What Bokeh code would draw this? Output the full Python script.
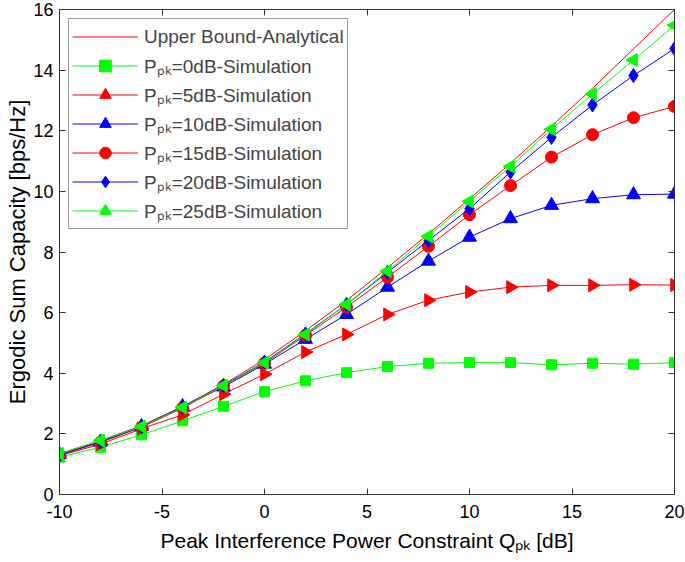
import math
from bokeh.plotting import figure
from bokeh.models import Legend, LegendItem, LinearAxis, FixedTicker, Range1d
from bokeh.embed import file_html
from bokeh.resources import INLINE

# peak interference power constraint Q_pk [dB]
q_db = [-10, -8, -6, -4, -2, 0, 2, 4, 6, 8, 10, 12, 14, 16, 18, 20]

upper_bound = [1.35, 1.78, 2.27, 2.90, 3.63, 4.45, 5.40, 6.40, 7.48, 8.60, 9.75, 10.93, 12.15, 13.40, 14.70, 16.00]
ppk_0 = [1.23, 1.56, 1.97, 2.43, 2.91, 3.39, 3.75, 4.02, 4.22, 4.33, 4.35, 4.35, 4.28, 4.33, 4.30, 4.35]
ppk_5 = [1.28, 1.66, 2.17, 2.63, 3.31, 3.97, 4.70, 5.28, 5.94, 6.41, 6.68, 6.84, 6.90, 6.90, 6.92, 6.91]
ppk_10 = [1.32, 1.73, 2.24, 2.90, 3.55, 4.30, 5.12, 5.94, 6.84, 7.70, 8.49, 9.10, 9.54, 9.76, 9.89, 9.91]
ppk_15 = [1.30, 1.72, 2.22, 2.85, 3.58, 4.33, 5.25, 6.18, 7.17, 8.19, 9.23, 10.19, 11.13, 11.87, 12.43, 12.80]
ppk_20 = [1.31, 1.74, 2.24, 2.88, 3.60, 4.37, 5.30, 6.27, 7.33, 8.38, 9.43, 10.64, 11.78, 12.85, 13.82, 14.71]
ppk_25 = [1.34, 1.78, 2.24, 2.87, 3.59, 4.35, 5.28, 6.27, 7.37, 8.52, 9.67, 10.82, 12.05, 13.21, 14.33, 15.48]

ppk_levels = [0, 5, 10, 15, 20, 25]
x_ticks = [-10, -5, 0, 5, 10, 15, 20]
y_ticks = [0, 2, 4, 6, 8, 10, 12, 14, 16]

FONT = "Liberation Sans"
AX = "#333333"

p = figure(width=685, height=562, x_range=Range1d(-10, 20), y_range=Range1d(0, 16),
           output_backend="svg", toolbar_location=None,
           min_border_left=59, min_border_right=11, min_border_top=9, min_border_bottom=68)
p.xgrid.grid_line_color = None
p.ygrid.grid_line_color = None
p.outline_line_color = AX

p.xaxis.ticker = FixedTicker(ticks=x_ticks)
p.yaxis.ticker = FixedTicker(ticks=y_ticks)
p.xaxis.major_label_overrides = {t: str(t) for t in x_ticks}
p.xaxis.axis_label = "Peak Interference Power Constraint Q\u209a\u2096 [dB]"
p.yaxis.axis_label = "Ergodic Sum Capacity [bps/Hz]"
for ax in (p.xaxis, p.yaxis):
    ax.axis_line_color = AX
    ax.major_tick_line_color = AX
    ax.major_tick_in = 6
    ax.major_tick_out = 0
    ax.minor_tick_line_color = None
    ax.major_label_text_font = FONT
    ax.major_label_text_font_size = "18px"
    ax.major_label_text_color = "black"
    ax.axis_label_text_font = FONT
    ax.axis_label_text_font_style = "normal"
    ax.axis_label_text_color = "black"
p.xaxis.axis_label_text_font_size = "21px"
p.yaxis.axis_label_text_font_size = "22px"
p.xaxis.major_label_standoff = 10
p.xaxis.axis_label_standoff = 8
p.yaxis.major_label_standoff = 6
p.yaxis.axis_label_standoff = 0

# box ticks on top and right, no labels
for loc, tk in (("above", x_ticks), ("right", y_ticks)):
    ax = LinearAxis(ticker=FixedTicker(ticks=tk), major_label_text_font_size="1px",
                    major_label_text_color=None, major_label_standoff=0,
                    major_tick_in=6, major_tick_out=0, minor_tick_line_color=None,
                    axis_line_color=AX, major_tick_line_color=AX)
    p.add_layout(ax, loc)

items = []
r = p.line(q_db, upper_bound, line_color="#ff0000", line_width=1)
items.append(LegendItem(label="Upper Bound-Analytical", renderers=[r]))

series = [
    (ppk_0, "#00ff00", "square", 10, 0),
    (ppk_5, "#ff0000", "triangle", 13, -math.pi / 2),
    (ppk_10, "#0000ff", "triangle", 14, 0),
    (ppk_15, "#ff0000", "circle", 12, 0),
    (ppk_20, "#0000ff", "diamond", 14, 0),
    (ppk_25, "#00ff00", "triangle", 13, math.pi / 2),
]
for lv, (vals, col, mk, sz, ang) in zip(ppk_levels, series):
    rl = p.line(q_db, vals, line_color=col, line_width=1)
    rs = p.scatter(q_db, vals, marker=mk, size=sz, angle=ang,
                   fill_color=col, line_color=col)
    items.append(LegendItem(label="P\u209a\u2096=%ddB-Simulation" % lv, renderers=[rl, rs]))

legend = Legend(items=items, location="top_left", margin=9, padding=3, spacing=0,
                label_height=26, glyph_height=29, glyph_width=66, label_standoff=6,
                label_text_font=FONT, label_text_font_size="19px",
                border_line_color=AX, border_line_width=1)
p.add_layout(legend)

open("out.html", "w").write(file_html(p, INLINE))
